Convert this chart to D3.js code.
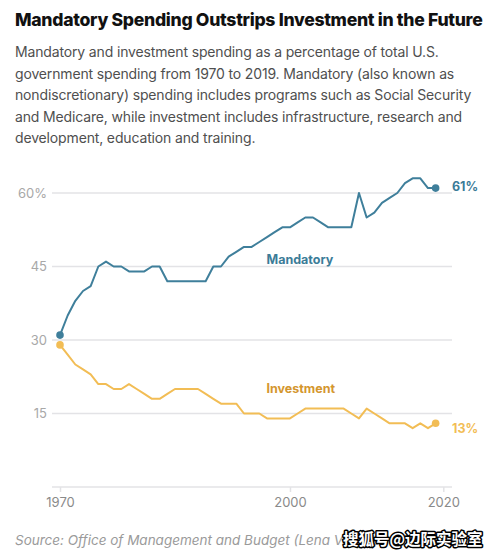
<!DOCTYPE html>
<html><head><meta charset="utf-8">
<script src="https://cdn.jsdelivr.net/npm/d3@7"></script>
<style>
html,body{margin:0;padding:0;background:#fff;}
svg{display:block;}
</style></head>
<body>
<svg id="chart" width="497" height="556"></svg>
<script>
const years = d3.range(1970, 2020);
const mandatory = [31,35,38,40,41,45,46,45,45,44,44,44,45,45,42,42,42,42,42,42,45,45,47,48,49,49,50,51,52,53,53,54,55,55,54,53,53,53,53,60,55,56,58,59,60,62,63,63,61,61];
const investment = [29,27,25,24,23,21,21,20,20,21,20,19,18,18,19,20,20,20,20,19,18,17,17,17,15,15,15,14,14,14,14,15,16,16,16,16,16,16,15,14,16,15,14,13,13,13,12,13,12,13];
const yTicks = [0,15,30,45,60];
const yTickLabels = ["","15","30","45","60%"];
const xTicks = [1970,2000,2020];

const title = "Mandatory Spending Outstrips Investment in the Future";
const subtitle = [
  "Mandatory and investment spending as a percentage of total U.S.",
  "government spending from 1970 to 2019. Mandatory (also known as",
  "nondiscretionary) spending includes programs such as Social Security",
  "and Medicare, while investment includes infrastructure, research and",
  "development, education and training."
];
const source = "Source: Office of Management and Budget (Lena V. Groeger/ProPublica)";
const watermark = "搜狐号@边际实验室";

const teal = "#3f7f9b", tealText = "#3b7c98";
const gold = "#f2bd55", goldText = "#d4962e";
const font = "Inter, 'Open Sans', sans-serif";

const svg = d3.select("#chart");
svg.append("rect").attr("width",497).attr("height",556).attr("fill","#fff");

svg.append("text").attr("x",15).attr("y",26).text(title)
  .attr("font-family",font).attr("font-weight",800).attr("font-size",17.6)
  .attr("fill","#111").attr("letter-spacing",-0.3);

subtitle.forEach((s,i)=>{
  svg.append("text").attr("x",15).attr("y",57+i*21.6).text(s)
    .attr("font-family",font).attr("font-size",14).attr("fill","#4f4f4f")
    .attr("letter-spacing",-0.15);
});

const x = d3.scaleLinear().domain([1970,2020]).range([60,443.3]);
const y = d3.scaleLinear().domain([0,60]).range([487,193]);

const g = svg.append("g");
g.selectAll("line.grid").data(yTicks).join("line")
  .attr("x1",52).attr("x2",452).attr("y1",d=>y(d)).attr("y2",d=>y(d))
  .attr("stroke","#e3e3e6").attr("stroke-width",1.5);
g.selectAll("text.ylab").data(yTicks).join("text")
  .attr("x",47).attr("y",d=>y(d)+4.5).attr("text-anchor","end")
  .text((d,i)=>yTickLabels[i])
  .attr("font-family",font).attr("font-size",13).attr("fill","#a8a8a8");

const xAxis = d3.axisBottom(x).tickValues(xTicks).tickFormat(d3.format("d")).tickSize(5).tickPadding(6);
const ax = g.append("g").attr("transform",`translate(0,${y(0)})`).call(xAxis);
ax.select(".domain").remove();
ax.selectAll(".tick line").attr("stroke","#e3e3e6").attr("stroke-width",1.5);
ax.selectAll(".tick text").attr("font-family",font).attr("font-size",13).attr("fill","#8a8a8a");

const line = d3.line().x((d,i)=>x(years[i])).y(d=>y(d));
g.append("path").datum(investment).attr("d",line).attr("fill","none")
  .attr("stroke",gold).attr("stroke-width",2).attr("stroke-linejoin","round");
g.append("path").datum(mandatory).attr("d",line).attr("fill","none")
  .attr("stroke",teal).attr("stroke-width",2).attr("stroke-linejoin","round");

const n = years.length-1;
[[mandatory,teal],[investment,gold]].forEach(([arr,c])=>{
  g.append("circle").attr("cx",x(years[0])).attr("cy",y(arr[0])).attr("r",3.8).attr("fill",c);
  g.append("circle").attr("cx",x(years[n])).attr("cy",y(arr[n])).attr("r",3.8).attr("fill",c);
});

g.append("text").attr("x",452).attr("y",y(mandatory[n])+2.5).text("61%")
  .attr("font-family",font).attr("font-weight",700).attr("font-size",12.5).attr("fill",tealText);
g.append("text").attr("x",452).attr("y",y(investment[n])+9.5).text("13%")
  .attr("font-family",font).attr("font-weight",700).attr("font-size",12.5).attr("fill",gold);

g.append("text").attr("x",266.5).attr("y",264).text("Mandatory")
  .attr("font-family",font).attr("font-weight",700).attr("font-size",12.5).attr("fill",tealText);
g.append("text").attr("x",266.5).attr("y",393).text("Investment")
  .attr("font-family",font).attr("font-weight",700).attr("font-size",12.5).attr("fill",goldText);

svg.append("text").attr("x",15).attr("y",545).text(source)
  .attr("font-family",font).attr("font-style","italic").attr("font-size",13.5).attr("fill","#9a9a9a");

svg.append("text").attr("x",343).attr("y",545).text(watermark)
  .attr("font-family","'Noto Sans CJK SC', sans-serif").attr("font-weight",700).attr("font-size",15.5)
  .attr("fill","#fff").attr("stroke","#000").attr("stroke-width",3).attr("paint-order","stroke")
  .attr("stroke-linejoin","round");
</script>
</body></html>
